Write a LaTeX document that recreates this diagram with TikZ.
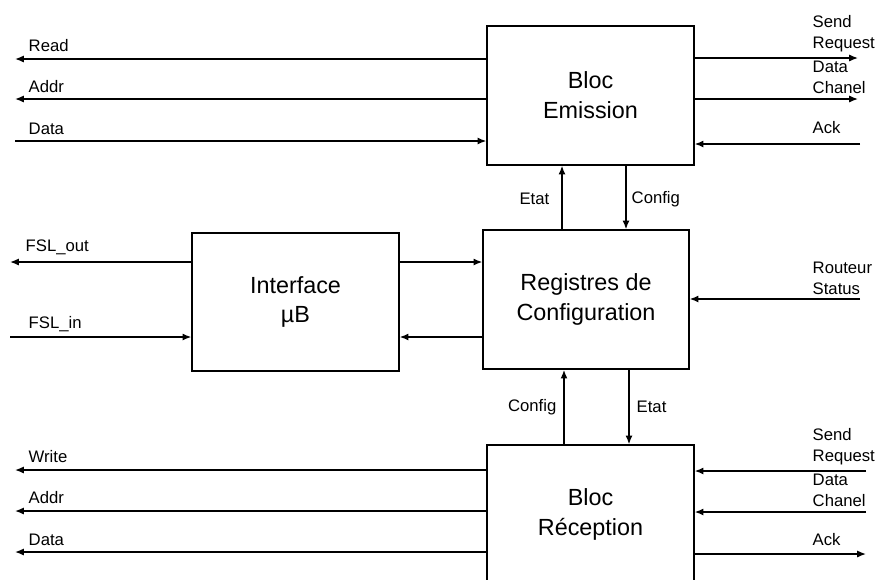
\documentclass[tikz,border=0pt]{standalone}
\usepackage{fontspec}
\setmainfont{Liberation Sans}
\usetikzlibrary{arrows.meta}
\begin{document}
\begin{tikzpicture}[x=0.02cm, y=-0.02cm, line width=0.8pt,
    bloc/.style={draw, minimum width=4.14cm, minimum height=2.78cm, align=center, font=\fontsize{13.3}{17}\selectfont},
    sig/.style={font=\fontsize{9.5}{12}\selectfont, inner sep=0pt},
    fl/.style={-{Latex[length=5pt,width=4pt]}}]
    \useasboundingbox (0,0) rectangle (875,579);
    \node [bloc] (emis) at (590.5,95.5) {Bloc\\Emission};
    \node [bloc, minimum width=4.12cm] (regs) at (586,299.5) {Registres de\\Configuration};
    \node [bloc, minimum height=2.76cm] (ub) at (295.5,302) {Interface\\µB};
    \node [bloc] (recp) at (590.5,514.5) {Bloc\\Réception};

    % bloc emission
    \coordinate (rd) at (15,59);  \coordinate (ad) at (15,99);  \coordinate (dt) at (15,141);
    \coordinate (sr) at (858,58); \coordinate (dc) at (858,99); \coordinate (ak) at (860,144);
    \draw [fl] (emis.west |- rd) -- (rd);
    \draw [fl] (emis.west |- ad) -- (ad);
    \draw [fl] (dt) -- (emis.west |- dt);
    \draw [fl] (emis.east |- sr) -- (sr);
    \draw [fl] (emis.east |- dc) -- (dc);
    \draw [fl] (ak) -- (emis.east |- ak);
    \node [sig, anchor=base west] at (28,51) {Read};
    \node [sig, anchor=base west] at (28,92) {Addr};
    \node [sig, anchor=base west] at (28,134) {Data};
    \node [sig, anchor=south west, align=left] at (812,53) {Send\\Request};
    \node [sig, anchor=south west, align=left] at (812,94) {Data\\Chanel};
    \node [sig, anchor=base west] at (812,133) {Ack};

    % emission <-> registres
    \draw [fl] (regs.north -| 562,0) -- (emis.south -| 562,0);
    \draw [fl] (emis.south -| 626,0) -- (regs.north -| 626,0);
    \node [sig, anchor=east] at (550,199) {Etat};
    \node [sig, anchor=west] at (631,199) {Config};

    % interface uB
    \coordinate (fo) at (10,262); \coordinate (fi) at (10,337);
    \draw [fl] (ub.west |- fo) -- (fo);
    \draw [fl] (fi) -- (ub.west |- fi);
    \draw [fl] (ub.east |- fo) -- (regs.west |- fo);
    \draw [fl] (regs.west |- fi) -- (ub.east |- fi);
    \node [sig, anchor=base west] at (25,251) {FSL\_out};
    \node [sig, anchor=base west] at (28,328) {FSL\_in};

    % routeur
    \coordinate (rs) at (860,299);
    \draw [fl] (rs) -- (regs.east |- rs);
    \node [sig, anchor=south west, align=left] at (812,295) {Routeur\\Status};

    % registres <-> reception
    \draw [fl, line width=1.4pt] (recp.north -| 564,0) -- (regs.south -| 564,0);
    \draw [fl] (regs.south -| 629,0) -- (recp.north -| 629,0);
    \node [sig, anchor=east] at (557,407) {Config};
    \node [sig, anchor=west] at (636,407) {Etat};

    % bloc reception
    \coordinate (wr) at (15,470); \coordinate (ra) at (15,511); \coordinate (rdt) at (15,552);
    \coordinate (rsr) at (866,471); \coordinate (rdc) at (866,512); \coordinate (rak) at (866,554);
    \draw [fl] (recp.west |- wr) -- (wr);
    \draw [fl] (recp.west |- ra) -- (ra);
    \draw [fl] (recp.west |- rdt) -- (rdt);
    \draw [fl] (rsr) -- (recp.east |- rsr);
    \draw [fl] (rdc) -- (recp.east |- rdc);
    \draw [fl] (recp.east |- rak) -- (rak);
    \node [sig, anchor=base west] at (28,462) {Write};
    \node [sig, anchor=base west] at (28,503) {Addr};
    \node [sig, anchor=base west] at (28,545) {Data};
    \node [sig, anchor=south west, align=left] at (812,466) {Send\\Request};
    \node [sig, anchor=south west, align=left] at (812,507) {Data\\Chanel};
    \node [sig, anchor=base west] at (812,545) {Ack};
\end{tikzpicture}
\end{document}
